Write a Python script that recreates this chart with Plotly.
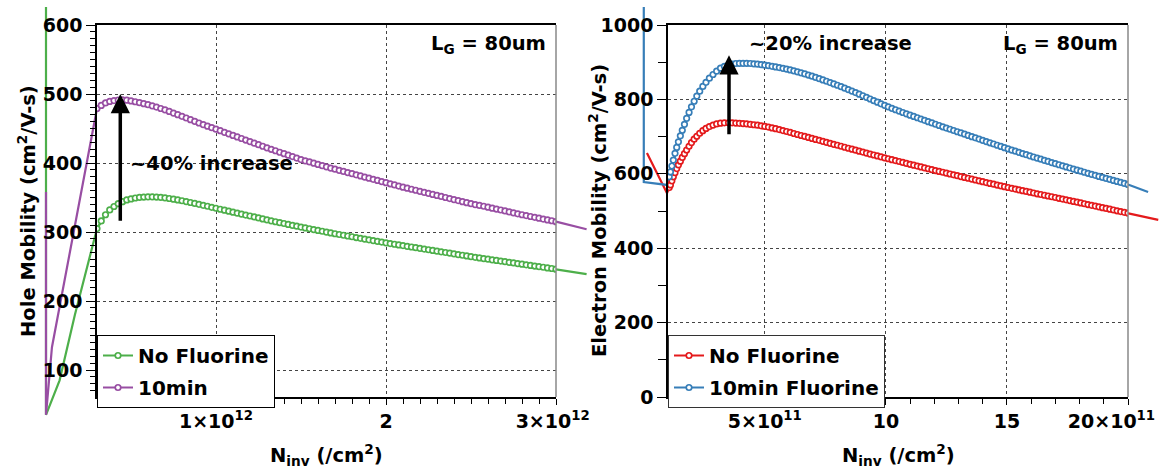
import plotly.graph_objects as go

W, H = 1159, 471

# ---------------- Left panel: hole mobility ----------------
hole_n_e12 = [0.3, 0.325, 0.35, 0.375, 0.4, 0.425, 0.45, 0.475, 0.5, 0.525,
              0.55, 0.575, 0.6, 0.625, 0.65, 0.675, 0.7, 0.725, 0.75, 0.775,
              0.8, 0.825, 0.85, 0.875, 0.9, 0.925, 0.95, 0.975, 1.0, 1.025,
              1.05, 1.075, 1.1, 1.125, 1.15, 1.175, 1.2, 1.225, 1.25, 1.275,
              1.3, 1.325, 1.35, 1.375, 1.4, 1.425, 1.45, 1.475, 1.5, 1.525,
              1.55, 1.575, 1.6, 1.625, 1.65, 1.675, 1.7, 1.725, 1.75, 1.775,
              1.8, 1.825, 1.85, 1.875, 1.9, 1.925, 1.95, 1.975, 2.0, 2.025,
              2.05, 2.075, 2.1, 2.125, 2.15, 2.175, 2.2, 2.225, 2.25, 2.275,
              2.3, 2.325, 2.35, 2.375, 2.4, 2.425, 2.45, 2.475, 2.5, 2.525,
              2.55, 2.575, 2.6, 2.625, 2.65, 2.675, 2.7, 2.725, 2.75, 2.775,
              2.8, 2.825, 2.85, 2.875, 2.9, 2.925, 2.95, 2.975, 3.0]
hole_mu_nofl = [305, 316, 325, 332, 337, 341, 344, 346.5, 348, 349.3,
                350.2, 350.7, 351, 351, 350.7, 350.2, 349.5, 348.6, 347.6, 346.5,
                345.3, 344.1, 342.8, 341.5, 340.1, 338.7, 337.3, 335.8, 334.4, 333,
                331.6, 330.2, 328.8, 327.4, 326, 324.6, 323.2, 321.8, 320.4, 319,
                317.6, 316.2, 314.9, 313.6, 312.3, 311, 309.7, 308.4, 307.1, 305.9,
                304.7, 303.5, 302.3, 301.1, 299.9, 298.7, 297.5, 296.4, 295.3, 294.2,
                293.1, 292, 290.9, 289.8, 288.7, 287.6, 286.5, 285.4, 284.3, 283.3,
                282.3, 281.3, 280.3, 279.3, 278.3, 277.3, 276.3, 275.3, 274.3, 273.3,
                272.3, 271.3, 270.3, 269.3, 268.3, 267.3, 266.3, 265.3, 264.3, 263.3,
                262.4, 261.5, 260.6, 259.7, 258.8, 257.9, 257, 256.1, 255.2, 254.3,
                253.4, 252.5, 251.6, 250.7, 249.8, 248.9, 248, 247.1, 246.2]
hole_mu_10min = [479, 483.5, 487, 489.2, 490.5, 491.3, 491.5, 491, 490, 488.8,
                 487.5, 486, 484.5, 482.8, 481, 479, 477, 474.7, 472.4, 470,
                 467.6, 465.2, 462.8, 460.4, 458, 455.7, 453.4, 451.2, 449, 446.8,
                 444.5, 442.3, 440, 437.8, 435.5, 433.3, 431, 428.8, 426.5, 424.3,
                 422, 419.9, 417.8, 415.6, 413.5, 411.4, 409.3, 407.1, 405, 403.2,
                 401.5, 399.7, 398, 396.2, 394.5, 392.7, 391, 389.4, 387.8, 386.1,
                 384.5, 382.9, 381.3, 379.6, 378, 376.4, 374.8, 373.1, 371.5, 369.9,
                 368.3, 366.6, 365, 363.5, 362, 360.5, 359, 357.5, 356, 354.5,
                 353, 351.5, 350, 348.5, 347, 345.5, 344, 342.5, 341, 339.8,
                 338.5, 337.3, 336, 334.6, 333.3, 331.9, 330.5, 329.1, 327.8, 326.4,
                 325, 323.8, 322.5, 321.3, 320, 318.8, 317.5, 316.3, 315]
# parts of the curves that the original draws outside the frame
hole_nofl_lead_n = [0.0, 0.0, 0.08, 0.17]
hole_nofl_lead_mu = [900, 35, 85, 180]
hole_nofl_tail_n = [3.18]
hole_nofl_tail_mu = [239]
hole_10min_lead_n = [0.0, 0.0, 0.035]
hole_10min_lead_mu = [358, 35, 133]
hole_10min_tail_n = [3.18]
hole_10min_tail_mu = [304]

# ---------------- Right panel: electron mobility ----------------
elec_n_e11 = [1.05, 1.10, 1.16, 1.22, 1.29, 1.36, 1.43, 1.51, 1.59, 1.68,
              1.77, 1.87, 1.97, 2.08, 2.19, 2.31, 2.44, 2.57, 2.71, 2.86,
              3.01, 3.17, 3.33, 3.50,
              3.65, 3.80, 3.95, 4.10, 4.25, 4.40, 4.55, 4.70, 4.85, 5.00,
              5.15, 5.30, 5.45, 5.60, 5.75, 5.90, 6.05, 6.20, 6.35, 6.50,
              6.65, 6.80, 6.95, 7.10, 7.25, 7.40, 7.55, 7.70, 7.85, 8.00,
              8.15, 8.30, 8.45, 8.60, 8.75, 8.90, 9.05, 9.20, 9.35, 9.50,
              9.65, 9.80, 9.95, 10.10, 10.25, 10.40, 10.55, 10.70, 10.85, 11.00,
              11.15, 11.30, 11.45, 11.60, 11.75, 11.90, 12.05, 12.20, 12.35, 12.50,
              12.65, 12.80, 12.95, 13.10, 13.25, 13.40, 13.55, 13.70, 13.85, 14.00,
              14.15, 14.30, 14.45, 14.60, 14.75, 14.90, 15.05, 15.20, 15.35, 15.50,
              15.65, 15.80, 15.95, 16.10, 16.25, 16.40, 16.55, 16.70, 16.85, 17.00,
              17.15, 17.30, 17.45, 17.60, 17.75, 17.90, 18.05, 18.20, 18.35, 18.50,
              18.65, 18.80, 18.95, 19.10, 19.25, 19.40, 19.55, 19.70, 19.85, 20.00]
elec_mu_nofl = [563, 570, 581, 592, 603, 614, 624, 634, 644, 654,
                664, 674, 684, 693, 701, 709, 716, 722, 727, 731,
                734, 736, 737, 737,
                737, 736.3, 735.6, 734.9, 734, 733, 731.9, 730.6, 729, 727.3,
                725.5, 723.4, 721.2, 718.8, 716.3, 713.7, 711.1, 708.4, 705.7, 703,
                700.4, 697.8, 695.1, 692.5, 689.9, 687.3, 684.6, 682, 679.3, 676.7,
                674, 671.4, 668.7, 666.1, 663.5, 660.9, 658.3, 655.7, 653.1, 650.6,
                648, 645.5, 643, 640.5, 638, 635.5, 633, 630.5, 628, 625.6,
                623.2, 620.8, 618.4, 616, 613.6, 611.2, 608.8, 606.4, 604.1, 601.8,
                599.5, 597.2, 594.9, 592.6, 590.3, 588, 585.7, 583.4, 581.1, 578.8,
                576.5, 574.2, 572, 569.8, 567.6, 565.4, 563.2, 561, 558.9, 556.8,
                554.7, 552.6, 550.5, 548.4, 546.3, 544.3, 542.3, 540.3, 538.3, 536.3,
                534.2, 532.1, 530, 527.9, 525.8, 523.7, 521.6, 519.5, 517.4, 515.3,
                513.2, 511.1, 509, 506.9, 504.8, 502.7, 500.6, 498.5, 496.4, 494.3]
elec_mu_10min = [592, 605, 621, 637, 655, 671, 686, 702, 717, 733,
                 749, 765, 780, 795, 809, 822, 835, 846, 857, 867,
                 876, 884, 889, 893,
                 895, 896.5, 897, 897, 897, 896.5, 895.7, 894.8, 893.5, 892,
                 890.6, 889, 887.4, 885.6, 883.6, 881.5, 879.2, 876.8, 874.2, 871.5,
                 868.6, 865.5, 862.3, 859, 855.7, 852.3, 848.8, 845.2, 841.5, 838,
                 834.2, 830.3, 826.4, 822.4, 818.3, 814.1, 809.8, 805.5, 801.1, 796.7,
                 792.5, 788.2, 784, 779.9, 776, 772.2, 768.5, 764.8, 761.2, 757.7,
                 754.2, 750.7, 747.2, 743.7, 740.2, 736.7, 733.2, 729.8, 726.4, 723,
                 719.7, 716.4, 713.1, 709.8, 706.5, 703.2, 699.9, 696.6, 693.3, 690,
                 686.7, 683.4, 680.1, 676.8, 673.5, 670.2, 666.9, 663.8, 660.7, 657.6,
                 654.5, 651.4, 648.3, 645.2, 642.2, 639.2, 636.2, 633.2, 630.2, 627.2,
                 624.3, 621.4, 618.5, 615.6, 612.7, 609.8, 607, 604.2, 601.4, 598.6,
                 595.8, 593, 590.2, 587.5, 584.8, 582.1, 579.4, 576.7, 574, 571.3]
elec_nofl_lead_n = [0.13, 0.96]
elec_nofl_lead_mu = [656, 548]
elec_nofl_tail_n = [21.25]
elec_nofl_tail_mu = [476]
elec_10min_lead_n = [0.0, 0.0, 0.96]
elec_10min_lead_mu = [1500, 578, 570]
elec_10min_tail_n = [20.83]
elec_10min_tail_mu = [551]

# tick labels
hole_xtick_vals = [1, 2, 3]
hole_xtick_text = ["1×10<sup>12</sup>", "2", "3×10<sup>12</sup>&nbsp;"]
elec_xtick_vals = [5, 10, 15, 20]
elec_xtick_text = ["5×10<sup>11</sup>", "10", "15", "20×10<sup>11</sup>&nbsp;&nbsp;&nbsp;&nbsp;&nbsp;"]

GREEN, PURPLE, RED, BLUE = "#4daf4a", "#984ea3", "#e41a1c", "#377eb8"
FONT = "DejaVu Sans"

# ---------------- geometry (pixels) ----------------
L_X0, L_X1 = 97, 556
R_X0, R_X1 = 668, 1128
Y_TOP, Y_BOT = 25, 397
hole_xr = [0.3e12, 3.0e12]
hole_yr = [60.9, 600]
elec_xr = [1e11, 20e11]
elec_yr = [0, 1000]


def xdom(p0, p1):
    return [p0 / W, p1 / W]


def ydom(top, bot):
    return [1 - bot / H, 1 - top / H]


def ext(r, p0, p1, q0, q1):
    s = (r[1] - r[0]) / (p1 - p0)
    return [r[0] + (q0 - p0) * s, r[0] + (q1 - p0) * s]


fig = go.Figure()
e12 = [v * 1e12 for v in hole_n_e12]
e11 = [v * 1e11 for v in elec_n_e11]


def full(lead_n, lead_mu, n, mu, tail_n, tail_mu, scale):
    xs = [v * scale for v in lead_n] + [v * scale for v in n] + [v * scale for v in tail_n]
    ys = list(lead_mu) + list(mu) + list(tail_mu)
    return xs, ys


# line traces on wider hidden axes (same scale) so curve ends show outside the frame
for lead_n, lead_mu, mu, tail_n, tail_mu, col in [
        (hole_nofl_lead_n, hole_nofl_lead_mu, hole_mu_nofl, hole_nofl_tail_n, hole_nofl_tail_mu, GREEN),
        (hole_10min_lead_n, hole_10min_lead_mu, hole_mu_10min, hole_10min_tail_n, hole_10min_tail_mu, PURPLE)]:
    xs, ys = full(lead_n, lead_mu, hole_n_e12, mu, tail_n, tail_mu, 1e12)
    fig.add_trace(go.Scatter(x=xs, y=ys, mode="lines", line=dict(color=col, width=2.2),
                             showlegend=False, hoverinfo="skip", xaxis="x", yaxis="y"))
for lead_n, lead_mu, mu, tail_n, tail_mu, col in [
        (elec_nofl_lead_n, elec_nofl_lead_mu, elec_mu_nofl, elec_nofl_tail_n, elec_nofl_tail_mu, RED),
        (elec_10min_lead_n, elec_10min_lead_mu, elec_mu_10min, elec_10min_tail_n, elec_10min_tail_mu, BLUE)]:
    xs, ys = full(lead_n, lead_mu, elec_n_e11, mu, tail_n, tail_mu, 1e11)
    fig.add_trace(go.Scatter(x=xs, y=ys, mode="lines", line=dict(color=col, width=2.2),
                             showlegend=False, hoverinfo="skip", xaxis="x2", yaxis="y2"))

mk = dict(symbol="circle", size=5.5, color="white")
fig.add_trace(go.Scatter(x=e12, y=hole_mu_nofl, mode="lines+markers", name="No Fluorine",
                         line=dict(color=GREEN, width=2), marker=dict(**mk, line=dict(color=GREEN, width=1.7)),
                         xaxis="x3", yaxis="y3", legend="legend", legendgroup="a"))
fig.add_trace(go.Scatter(x=e12, y=hole_mu_10min, mode="lines+markers", name="10min",
                         line=dict(color=PURPLE, width=2), marker=dict(**mk, line=dict(color=PURPLE, width=1.7)),
                         xaxis="x3", yaxis="y3", legend="legend", legendgroup="b"))
fig.add_trace(go.Scatter(x=e11, y=elec_mu_nofl, mode="lines+markers", name="No Fluorine",
                         line=dict(color=RED, width=2), marker=dict(**mk, line=dict(color=RED, width=1.7)),
                         xaxis="x4", yaxis="y4", legend="legend2", legendgroup="c"))
fig.add_trace(go.Scatter(x=e11, y=elec_mu_10min, mode="lines+markers", name="10min Fluorine",
                         line=dict(color=BLUE, width=2), marker=dict(**mk, line=dict(color=BLUE, width=1.7)),
                         xaxis="x4", yaxis="y4", legend="legend2", legendgroup="d"))

hidden = dict(visible=False, fixedrange=True, automargin=False)
tickfont = dict(family=FONT, size=19, color="black", weight="bold")
common_x = dict(showline=True, linecolor="black", linewidth=1.5, mirror=True, ticks="outside",
                ticklen=6, tickcolor="black", tickwidth=1.2, zeroline=False, showgrid=True,
                gridcolor="#444", griddash="dot", gridwidth=1, tickfont=tickfont, automargin=False,
                ticklabeloverflow="allow")
common_y = dict(showline=True, linecolor="black", linewidth=1.5, ticks="outside",
                ticklen=9, tickcolor="black", tickwidth=1.2, zeroline=False, showgrid=True,
                gridcolor="#444", griddash="dot", gridwidth=1, tickfont=tickfont, automargin=False,
                ticklabeloverflow="allow", side="left")
mnr = dict(ticks="outside", tickcolor="black", tickwidth=1.1, showgrid=False)

fig.update_layout(
    template="none",
    width=W, height=H, margin=dict(l=0, r=0, t=0, b=0, pad=0, autoexpand=False),
    paper_bgcolor="white", plot_bgcolor="rgba(0,0,0,0)",
    font=dict(family=FONT, color="black"),
    xaxis=dict(**hidden, domain=xdom(30, 600), range=ext(hole_xr, L_X0, L_X1, 30, 600), anchor="y"),
    yaxis=dict(**hidden, domain=ydom(7, 471), range=ext(hole_yr, Y_BOT, Y_TOP, 471, 7), anchor="x"),
    xaxis2=dict(**hidden, domain=xdom(630, 1159), range=ext(elec_xr, R_X0, R_X1, 630, 1159), anchor="y2"),
    yaxis2=dict(**hidden, domain=ydom(7, 471), range=ext(elec_yr, Y_BOT, Y_TOP, 471, 7), anchor="x2"),
    xaxis3=dict(**common_x, domain=xdom(L_X0, L_X1), range=hole_xr, anchor="y3",
                tickmode="array", tickvals=[v * 1e12 for v in hole_xtick_vals], ticktext=hole_xtick_text,
                minor=dict(**mnr, ticklen=5, tick0=0, dtick=1e11)),
    yaxis3=dict(**common_y, domain=ydom(Y_TOP, Y_BOT), range=hole_yr, anchor="x3",
                tickmode="linear", tick0=0, dtick=100, minor=dict(**mnr, ticklen=5, tick0=0, dtick=10)),
    xaxis4=dict(**common_x, domain=xdom(R_X0, R_X1), range=elec_xr, anchor="y4",
                tickmode="array", tickvals=[v * 1e11 for v in elec_xtick_vals], ticktext=elec_xtick_text,
                minor=dict(**mnr, ticklen=5, tick0=0, dtick=1e11)),
    yaxis4=dict(**common_y, domain=ydom(Y_TOP, Y_BOT), range=elec_yr, anchor="x4",
                tickmode="linear", tick0=0, dtick=200, minor=dict(**mnr, ticklen=8, tick0=0, dtick=100)),
    legend=dict(x=L_X0 / W, y=1 - 335 / H, xanchor="left", yanchor="top", bgcolor="white",
                bordercolor="black", borderwidth=1, font=dict(family=FONT, size=20, weight="bold"),
                tracegroupgap=3, itemwidth=30),
    legend2=dict(x=R_X0 / W, y=1 - 335 / H, xanchor="left", yanchor="top", bgcolor="white",
                 bordercolor="#333", borderwidth=1, font=dict(family=FONT, size=20, weight="bold"),
                 tracegroupgap=3, itemwidth=30),
    showlegend=True,
)

# right frame edges in grey
for xr_, yr_ in [("x3", "y3"), ("x4", "y4")]:
    fig.add_shape(type="line", xref=f"{xr_} domain", yref=f"{yr_} domain", x0=1, x1=1, y0=0, y1=1,
                  line=dict(color="#888", width=1.5))

afont = dict(family=FONT, size=19.5, color="black", weight="bold")
ann = [
    dict(text="Hole Mobility (cm<sup>2</sup>/V-s)", x=27 / W, y=1 - 211 / H, textangle=-90),
    dict(text="Electron Mobility (cm<sup>2</sup>/V-s)", x=598 / W, y=1 - 211 / H, textangle=-90),
    dict(text="N<sub>inv</sub> (/cm<sup>2</sup>)", x=(L_X0 + L_X1) / 2 / W, y=1 - 455 / H),
    dict(text="N<sub>inv</sub> (/cm<sup>2</sup>)", x=(R_X0 + R_X1) / 2 / W, y=1 - 455 / H),
]
for a in ann:
    fig.add_annotation(xref="paper", yref="paper", showarrow=False, xanchor="center", yanchor="middle",
                       font=afont, **a)
fig.add_annotation(xref="paper", yref="paper", x=548 / W, y=1 - 45 / H, xanchor="right", yanchor="middle",
                   text="L<sub>G</sub> = 80um", showarrow=False, font=afont)
fig.add_annotation(xref="paper", yref="paper", x=1120 / W, y=1 - 45 / H, xanchor="right", yanchor="middle",
                   text="L<sub>G</sub> = 80um", showarrow=False, font=afont)
fig.add_annotation(xref="paper", yref="paper", x=128 / W, y=1 - 164 / H, xanchor="left", yanchor="middle",
                   text="~40% increase", showarrow=False, font=afont)
fig.add_annotation(xref="paper", yref="paper", x=747 / W, y=1 - 44 / H, xanchor="left", yanchor="middle",
                   text="~20% increase", showarrow=False, font=afont)
# arrows
fig.add_annotation(x=0.437e12, y=500, ax=0.437e12, ay=314, xref="x3", yref="y3", axref="x3", ayref="y3",
                   text="", showarrow=True, arrowhead=2, arrowsize=1.1, arrowwidth=3.5, arrowcolor="black",
                   standoff=0, startstandoff=0)
fig.add_annotation(x=3.52e11, y=919, ax=3.52e11, ay=702, xref="x4", yref="y4", axref="x4", ayref="y4",
                   text="", showarrow=True, arrowhead=2, arrowsize=1.1, arrowwidth=3.5, arrowcolor="black",
                   standoff=0, startstandoff=0)

fig.write_html("out.html")
